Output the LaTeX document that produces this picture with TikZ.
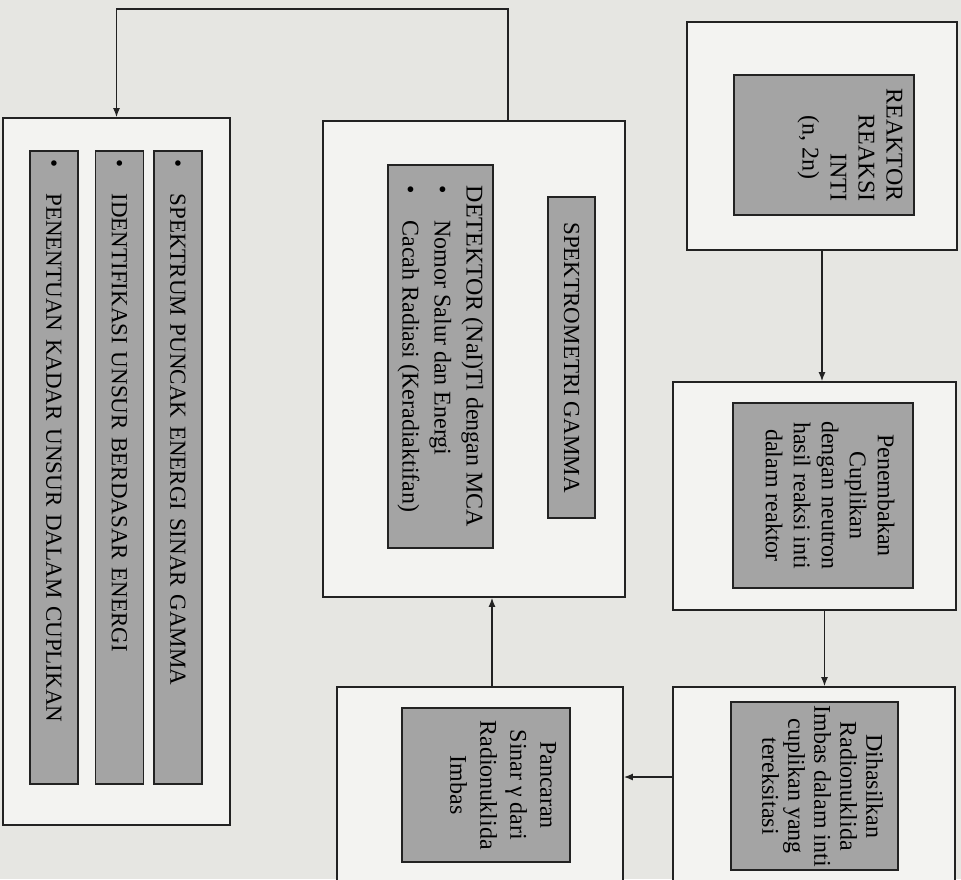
\documentclass[tikz,border=0pt]{standalone}
\usepackage{fontspec}
\setmainfont{Liberation Serif}
\usetikzlibrary{arrows.meta, calc}

\begin{document}
\begin{tikzpicture}[x=1pt, y=-1pt,
    outerBox/.style={draw=borderColour, fill=boxColour, line width=1.8pt, inner sep=0pt},
    shadeBox/.style={draw=borderColour, fill=shadeColour, line width=1.6pt},
    vText/.style={rotate=-90, inner sep=0pt, font=\fontsize{24}{28}\selectfont},
    flow/.style={draw=borderColour, line width=1.3pt, -{Latex[length=9pt, width=7pt]}}
]
    % Define colours
    \definecolor{borderColour}{HTML}{222222}
    \definecolor{shadeColour}{HTML}{A4A4A4}
    \definecolor{boxColour}{HTML}{F3F3F1}
    \definecolor{paperColour}{HTML}{E6E6E2}

    % Page (picture is 961 x 879)
    \useasboundingbox (0,0) rectangle (961,879);
    \clip (0,0) rectangle (961,879);
    \fill[paperColour] (0,0) rectangle (961,879);

    % Reactor
    \node[outerBox, minimum width=270pt, minimum height=228pt] (reaktorBox) at (822,136) {};
    \node[shadeBox, minimum width=180pt, minimum height=140pt] (reaktorIn) at (824,145) {};
    \node[vText, align=right] (reaktorText) at ([xshift=26pt]reaktorIn.center)
        {REAKTOR\\REAKSI\\INTI\\(n, 2n)\hspace*{22pt}};

    % Irradiation of the sample
    \node[outerBox, minimum width=283pt, minimum height=228pt] (tembakBox) at (814.5,496) {};
    \node[shadeBox, minimum width=180pt, minimum height=185pt] (tembakIn) at (823,495.5) {};
    \node[vText, align=center] (tembakText) at ([xshift=7pt]tembakIn.center)
        {Penembakan\\Cuplikan\\dengan neutron\\hasil reaksi inti\\dalam reaktor};

    % Induced radionuclide
    \node[outerBox, minimum width=282pt, minimum height=230pt] (hasilBox) at (814,802) {};
    \node[shadeBox, minimum width=167pt, minimum height=168pt] (hasilIn) at (814.5,786) {};
    \node[vText, align=center, font=\fontsize{24}{26}\selectfont] (hasilText) at ([xshift=8pt]hasilIn.center)
        {Dihasilkan\\Radionuklida\\Imbas dalam inti\\cuplikan yang\\tereksitasi};

    % Gamma emission
    \node[outerBox, minimum width=286pt, minimum height=230pt] (pancarBox) at (480,802) {};
    \node[shadeBox, minimum width=168pt, minimum height=154pt] (pancarIn) at (486,785) {};
    \node[vText, align=center, font=\fontsize{24}{30}\selectfont] (pancarText) at ([xshift=17pt]pancarIn.center)
        {Pancaran\\Sinar γ dari\\Radionuklida\\Imbas};

    % Gamma spectrometry
    \node[outerBox, minimum width=302pt, minimum height=476pt] (spektroBox) at (474,359) {};
    \node[shadeBox, vText, minimum width=321pt, minimum height=47pt, font=\fontsize{23}{26}\selectfont] (gammaIn) at (571.5,357.5)
        {SPEKTROMETRI GAMMA};
    \node[shadeBox, vText, minimum width=383pt, minimum height=105pt, align=left, font=\fontsize{24}{32}\selectfont] (detektorIn) at (440.5,356.5)
        {DETEKTOR (NaI)Tl dengan MCA\\\textbullet\hspace{1.1em}Nomor Salur dan Energi\\\textbullet\hspace{1.1em}Cacah Radiasi (Keradiaktifan)};

    % Analysis results
    \node[outerBox, minimum width=227pt, minimum height=707pt] (analisisBox) at (116.5,471.5) {};
    \foreach \xPos/\stripName/\txt in {178/spektrumIn/SPEKTRUM PUNCAK ENERGI SINAR GAMMA,
                                     119.5/identIn/IDENTIFIKASI UNSUR BERDASAR ENERGI,
                                     54/kadarIn/PENENTUAN KADAR UNSUR DALAM CUPLIKAN}
        \node[shadeBox, vText, inner xsep=8pt, text width=617pt, minimum height=48pt, align=left,
              font=\fontsize{23}{26}\selectfont] (\stripName) at (\xPos,467.5) {\textbullet\hspace{1.15em}\txt};

    % Draw connectors
    \draw[flow] (reaktorBox.south) -- (reaktorBox.south |- tembakBox.north);
    \draw[flow] ([xshift=10pt]tembakBox.south) -- ([xshift=10pt]tembakBox.south |- hasilBox.north);
    \draw[flow] ([yshift=25pt]hasilBox.west) -- ([yshift=25pt]pancarBox.east);
    \draw[flow] ([xshift=12pt]pancarBox.north) -- ([xshift=12pt]pancarBox.north |- spektroBox.south);
    \draw[flow] ([xshift=34pt]spektroBox.north) -- ++(0,-111) -| (analisisBox.north);

\end{tikzpicture}
\end{document}
